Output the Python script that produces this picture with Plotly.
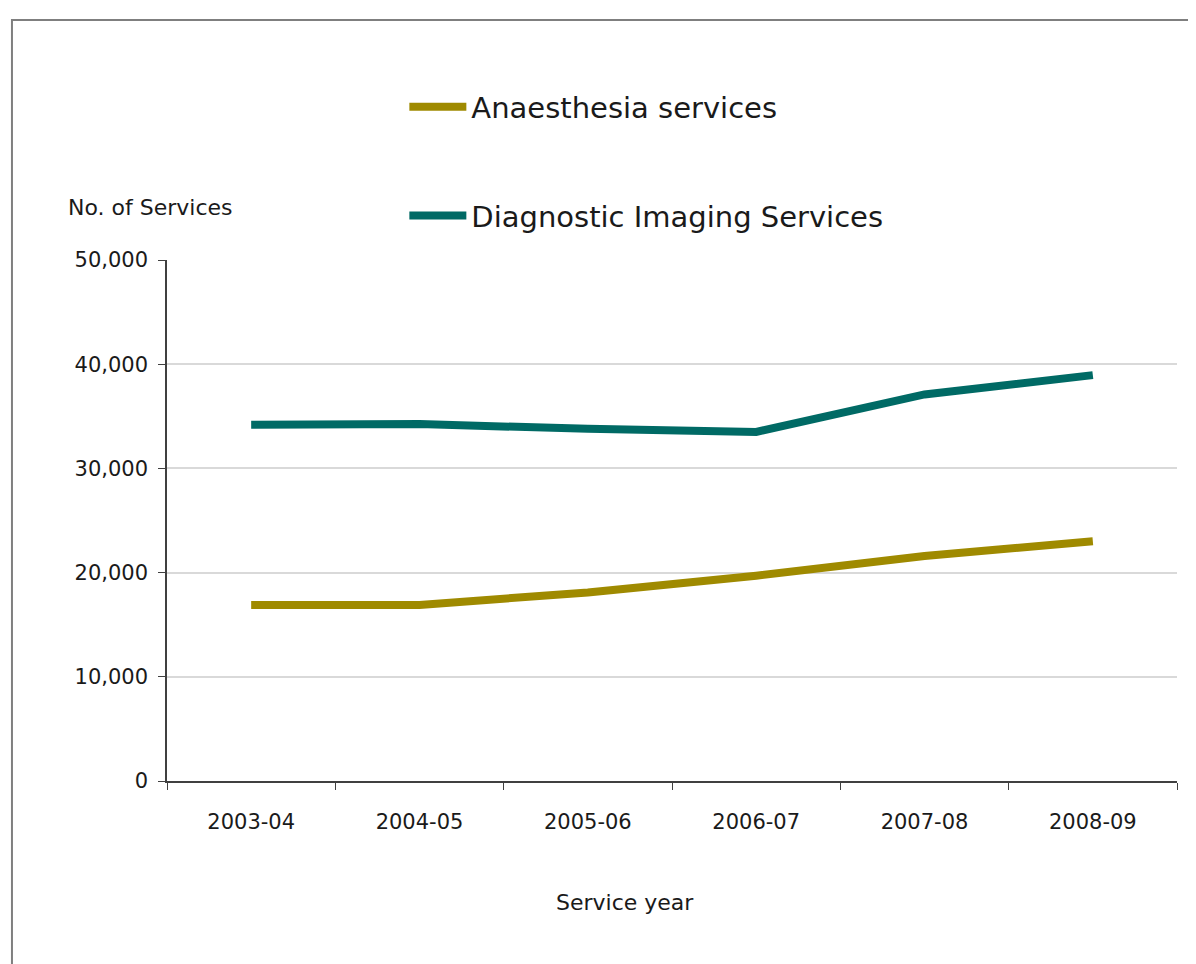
import plotly.graph_objects as go

years = ["2003-04", "2004-05", "2005-06", "2006-07", "2007-08", "2008-09"]
anaesthesia = [16900, 16900, 18100, 19700, 21600, 23000]
imaging = [34200, 34250, 33800, 33500, 37100, 38950]

y_ticks = [0, 10000, 20000, 30000, 40000, 50000]
y_tick_text = ["0", "10,000", "20,000", "30,000", "40,000", "50,000"]

FONT = "DejaVu Sans"
TEXT = "#1A1A1A"
OLIVE = "#9F8A00"
TEAL = "#006A65"

fig = go.Figure()

fig.add_trace(go.Scatter(
    x=years, y=anaesthesia, name="Anaesthesia services",
    mode="lines", line=dict(color=OLIVE, width=8),
    legend="legend", showlegend=True,
))
fig.add_trace(go.Scatter(
    x=years, y=imaging, name="Diagnostic Imaging Services",
    mode="lines", line=dict(color=TEAL, width=8),
    legend="legend2", showlegend=True,
))

legend_style = dict(
    x=0.235, xanchor="left", yanchor="middle",
    bgcolor="rgba(0,0,0,0)", itemwidth=57,
    font=dict(family=FONT, size=29, color=TEXT),
)

# page body has an 8px margin, so the figure is a bit smaller than the window
fig.update_layout(
    width=1188, height=956,
    margin=dict(l=159, r=19, t=252, b=183, autoexpand=False),
    paper_bgcolor="white", plot_bgcolor="white",
    font=dict(family=FONT, color=TEXT),
    showlegend=True,
    legend=dict(y=1.294, **legend_style),
    legend2=dict(y=1.085, **legend_style),
    xaxis=dict(
        type="category", range=[-0.5, 5.5],
        tickson="boundaries", ticks="outside", ticklen=7, tickcolor="#404040",
        showline=True, linecolor="#404040", linewidth=1.5,
        showgrid=False, ticklabelstandoff=21,
        tickfont=dict(family=FONT, size=21, color=TEXT),
    ),
    yaxis=dict(
        range=[0, 50000], tickvals=y_ticks, ticktext=y_tick_text,
        ticks="outside", ticklen=7, tickcolor="#404040",
        showline=True, linecolor="#404040", linewidth=1.5,
        showgrid=True, gridcolor="#D9D9D9", gridwidth=2,
        zeroline=False, ticklabelstandoff=6,
        tickfont=dict(family=FONT, size=21, color=TEXT),
    ),
    annotations=[
        dict(
            text="No. of Services", xref="paper", yref="paper",
            x=-0.1, y=1.1, xanchor="left", yanchor="middle", showarrow=False,
            font=dict(family=FONT, size=22, color=TEXT),
        ),
        dict(
            text="Service year", xref="paper", yref="paper",
            x=0.453, y=-0.234, xanchor="center", yanchor="middle", showarrow=False,
            font=dict(family=FONT, size=22, color=TEXT),
        ),
    ],
    shapes=[dict(
        type="rect", xref="paper", yref="paper",
        x0=-0.1535, x1=1.0129, y0=-0.37, y1=1.4607,
        line=dict(color="#7F7F7F", width=2), fillcolor="rgba(0,0,0,0)", layer="below",
    )],
)

fig.write_html("out.html")
